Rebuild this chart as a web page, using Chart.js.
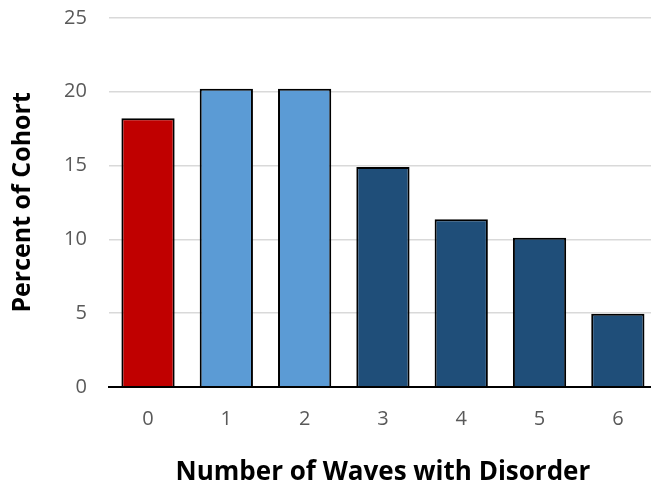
<!DOCTYPE html>
<html>
<head>
<meta charset="utf-8">
<script src="https://cdn.jsdelivr.net/npm/chart.js@4/dist/chart.umd.min.js"></script>
<style>
  html, body { margin: 0; padding: 0; background: #fff; overflow: hidden; }
  #wrap { position: relative; top: -16px; width: 668px; height: 506px; }
</style>
</head>
<body>
<div id="wrap"><canvas id="dataChart"></canvas></div>
<script>
const categories = ["0", "1", "2", "3", "4", "5", "6"];
const percentOfCohort = [18.2, 20.2, 20.2, 14.9, 11.35, 10.1, 4.95];
const barColors = ["#C00000", "#5B9BD5", "#5B9BD5", "#1F4E79", "#1F4E79", "#1F4E79", "#1F4E79"];
const yTicks = [0, 5, 10, 15, 20, 25];

document.addEventListener("DOMContentLoaded", function () {
    const ctx = document.getElementById("dataChart").getContext("2d");

    new Chart(ctx, {
        type: "bar",
        data: {
            labels: categories,
            datasets: [{
                data: percentOfCohort,
                backgroundColor: barColors,
                borderColor: "#000000",
                borderWidth: 2,
                borderSkipped: "bottom",
                categoryPercentage: 0.68,
                barPercentage: 1.0
            }]
        },
        options: {
            responsive: true,
            maintainAspectRatio: false,
            animation: false,
            layout: { padding: { top: 0, right: 11, bottom: 2, left: 8 } },
            plugins: {
                legend: { display: false },
                tooltip: { enabled: false }
            },
            scales: {
                x: {
                    grid: { display: false },
                    border: { color: "#000000", width: 2 },
                    ticks: {
                        color: "#595959",
                        font: { family: "Open Sans", size: 20 },
                        padding: 12
                    },
                    title: {
                        display: true,
                        text: "Number of Waves with Disorder",
                        color: "#000000",
                        font: { family: "Open Sans", size: 26, weight: "bold" },
                        padding: { top: 14, bottom: 0 }
                    }
                },
                y: {
                    min: 0,
                    max: 25,
                    afterBuildTicks: function (axis) {
                        axis.ticks = yTicks.map(v => ({ value: v }));
                    },
                    grid: { color: "#D9D9D9", lineWidth: 1.5, drawTicks: false },
                    border: { display: false },
                    ticks: {
                        color: "#595959",
                        font: { family: "Open Sans", size: 20 },
                        padding: 22
                    },
                    title: {
                        display: true,
                        text: "Percent of Cohort",
                        color: "#000000",
                        font: { family: "Open Sans", size: 25, weight: "bold" },
                        padding: { top: 0, bottom: 4 }
                    }
                }
            }
        }
    });
});
</script>
</body>
</html>
